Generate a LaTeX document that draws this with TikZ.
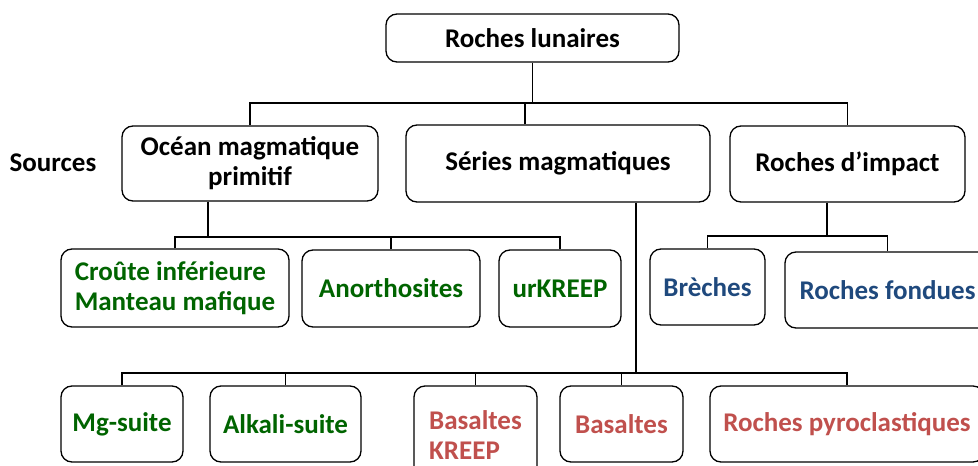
\documentclass[tikz,border=0pt]{standalone}
\usepackage{fontspec}
\setmainfont{Carlito}
\definecolor{cgreen}{RGB}{0,100,0}
\definecolor{cblue}{RGB}{31,73,125}
\definecolor{cred}{RGB}{192,80,77}
\begin{document}
\begin{tikzpicture}[x=1pt,y=-1pt,
  box/.style={draw, rounded corners=11pt, line width=1.3pt, inner sep=0pt, align=center,
    font=\fontsize{27}{30}\selectfont\bfseries},
  link/.style={line width=1.3pt},
  lbl/.style={inner sep=0pt, font=\fontsize{27}{30}\selectfont\bfseries}]
\useasboundingbox (0,0) rectangle (978,466);
\clip (0,0) rectangle (978,466);
% level 0
\node[box, minimum width=293pt, minimum height=48pt] (top) at (532.5,38) {Roches lunaires};
% level 1
\node[lbl] (sources) at (53,163) {Sources};
\node[box, minimum width=256pt, minimum height=75pt] (ocean) at (250,163.5) {Océan magmatique\\primitif};
\node[box, minimum width=304pt, minimum height=77pt] (series) at (558,163.5) {Séries magmatiques};
\node[box, minimum width=235pt, minimum height=76pt] (impact) at (847.5,164) {Roches d’impact};
% level 2
\node[box, align=left, text=cgreen, minimum width=228pt, minimum height=78pt] (croute) at (175,288) {Croûte inférieure\\Manteau mafique};
\node[box, text=cgreen, minimum width=178pt, minimum height=77pt] (anorth) at (391,288.5) {Anorthosites};
\node[box, text=cgreen, minimum width=122pt, minimum height=77pt] (urkreep) at (560,288.5) {urKREEP};
\node[box, text=cblue, minimum width=115pt, minimum height=76pt] (breches) at (707.5,287) {Brèches};
\node[box, text=cblue, minimum width=205pt, minimum height=76pt] (fondues) at (887.5,290) {Roches fondues};
% level 3
\node[box, text=cgreen, minimum width=122pt, minimum height=76pt] (mg) at (122,424) {Mg-suite};
\node[box, text=cgreen, minimum width=151pt, minimum height=76pt] (alkali) at (285.5,424) {Alkali-suite};
\node[box, align=left, text=cred, minimum width=123pt, minimum height=98pt] (bkreep) at (475.5,435) {Basaltes\\KREEP};
\node[box, text=cred, minimum width=123pt, minimum height=76pt] (basaltes) at (621.5,424) {Basaltes};
\node[box, text=cred, minimum width=274pt, minimum height=76pt] (pyro) at (847,424) {Roches pyroclastiques};
% helper coordinates
\coordinate (b1) at (0,103);
\coordinate (b2) at (0,237);
\coordinate (b3) at (0,236);
\coordinate (b4) at (0,373);
\coordinate (sx) at (525,0);
\coordinate (ox) at (208,0);
\coordinate (ix) at (827,0);
\coordinate (mx) at (636,0);
% connectors
\draw[link] (top.south) -- (top.south |- b1);
\draw[link] (ocean.north) |- (impact.north |- b1) -- (impact.north);
\draw[link] (series.north -| sx) -- (sx |- b1);
\draw[link] (ocean.south -| ox) -- (ox |- b2);
\draw[link] (croute.north) |- (urkreep.north |- b2) -- (urkreep.north);
\draw[link] (anorth.north) -- (anorth.north |- b2);
\draw[link] (impact.south -| ix) -- (ix |- b3);
\draw[link] (breches.north) |- (fondues.north |- b3) -- (fondues.north);
\draw[link] (series.south -| mx) -- (mx |- b4);
\draw[link] (mg.north) |- (pyro.north |- b4) -- (pyro.north);
\draw[link] (alkali.north) -- (alkali.north |- b4);
\draw[link] (bkreep.north) -- (bkreep.north |- b4);
\draw[link] (basaltes.north) -- (basaltes.north |- b4);
\end{tikzpicture}
\end{document}
